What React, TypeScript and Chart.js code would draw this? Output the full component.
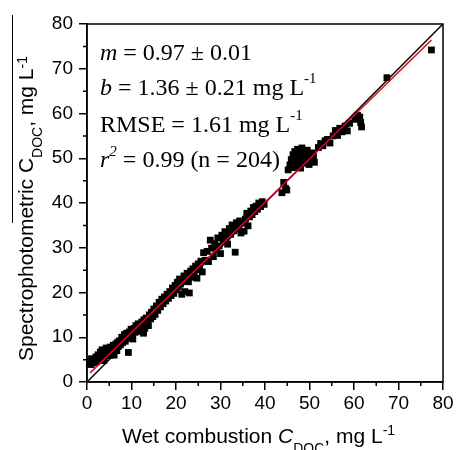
import React, { useEffect, useRef } from 'react';
import { Chart, registerables } from 'chart.js';
Chart.register(...registerables);

// Wet combustion C_DOC (x) vs spectrophotometric C_DOC (y), mg/L
const wetX = [
  0.2, 0.5, 0.9, 1.1, 1.4, 1.8, 2.0, 2.2, 2.5, 2.7, 3.0, 3.2, 3.4, 3.6, 3.9, 4.1, 4.3, 4.5, 4.8, 5.0,
  5.2, 5.4, 5.7, 5.9, 6.1, 6.3, 6.5, 6.7, 6.9, 7.0, 1.0, 3.8, 12.7,
  7.3, 7.5, 7.8, 8.0, 8.2, 8.4, 8.6, 8.9, 9.1, 9.3, 9.5, 9.7, 9.9, 10.1, 10.3, 10.6, 10.8, 11.0, 11.3, 11.5,
  11.8, 12.0, 12.3, 12.5, 12.8, 13.0, 13.3, 13.5, 13.8, 14.0, 14.3, 14.5, 14.8, 15.0, 15.3, 15.6, 15.9, 16.2, 16.5, 16.8,
  17.1, 17.4, 17.7, 18.0, 18.3, 18.6, 18.9, 19.2, 19.5, 19.8, 20.0, 20.3, 20.5, 20.8, 21.0, 21.3, 21.5, 21.8,
  22.0, 22.3, 22.5, 22.8, 23.0, 23.3, 23.5, 23.8, 24.1, 24.4, 24.7, 25.0, 25.3, 25.6, 25.9, 26.2, 26.6,
  27.0, 27.3, 27.7, 28.0, 28.4, 28.7, 29.0, 29.4, 29.7, 30.0, 30.3, 30.6, 31.0, 31.3, 31.6, 32.0, 32.3, 32.6, 33.0, 33.3,
  33.6, 34.0, 34.3, 34.6, 35.0, 35.3, 35.6, 35.9, 36.2, 36.5, 36.8, 37.1, 37.4, 37.7, 38.0, 38.3, 38.6, 39.0, 39.4, 39.8,
  43.8, 44.2, 44.6, 44.9, 45.2,
  45.6, 45.9, 46.1, 46.3, 46.5, 46.7, 46.9, 47.1, 47.3, 47.5, 47.7, 47.9, 48.1, 48.3, 48.5, 48.7, 48.9, 49.1, 49.3, 49.5,
  49.7, 49.9, 50.1, 50.3, 50.5, 50.7, 50.9, 51.1, 47.0, 48.0,
  52.0, 52.5, 53.0, 53.5, 54.0, 54.6, 55.3, 55.8, 56.3, 56.8, 57.3, 58.0, 58.5, 59.0, 60.2, 60.8, 61.3, 61.7, 61.5,
  67.4, 77.4,
];
const specY = [
  4.1, 4.4, 3.9, 4.6, 4.3, 4.9, 5.6, 4.5, 6.1, 5.2, 6.7, 5.8, 7.2, 6.2, 5.4, 6.9, 7.6, 6.3, 7.1, 5.9,
  7.8, 6.6, 7.3, 8.2, 6.0, 7.7, 8.5, 7.0, 8.9, 7.9, 5.2, 4.8, 10.9,
  9.2, 8.3, 10.0, 8.8, 9.6, 10.6, 9.1, 10.9, 9.8, 6.6, 11.2, 10.3, 11.8, 10.7, 9.6, 12.0, 11.1, 12.6, 11.5, 13.0,
  12.2, 11.3, 13.4, 12.6, 13.9, 12.0, 14.3, 13.2, 12.6, 15.0, 14.1, 15.6, 14.6, 16.3, 15.1, 17.0, 16.0, 17.8, 16.8, 18.5,
  17.5, 19.0, 18.1, 19.6, 18.7, 20.2, 19.3, 21.0, 19.8, 21.6, 20.6, 22.3, 21.2, 23.0, 21.9, 19.6, 22.6, 23.7,
  20.2, 23.2, 24.3, 22.4, 19.9, 24.8, 23.4, 25.3, 24.2, 25.9, 23.2, 26.4, 25.1, 27.0, 24.6, 28.9, 27.2,
  29.2, 26.9, 31.7, 29.9, 28.0, 30.9, 29.5, 32.2, 30.4, 28.7, 32.8, 31.6, 33.6, 32.1, 30.8, 34.3, 33.0, 35.1, 33.8, 29.0,
  35.6, 34.2, 36.0, 33.3, 35.5, 33.7, 36.4, 37.7, 34.9, 36.9, 38.2, 37.4, 39.0, 38.1, 39.3, 38.6, 40.0, 39.2, 40.3, 39.7,
  42.3, 44.6, 43.3, 42.9, 47.4,
  48.5, 49.7, 47.9, 50.8, 49.0, 51.5, 48.3, 50.2, 52.0, 49.4, 51.0, 48.7, 50.6, 52.3, 49.8, 51.4, 48.9, 50.9, 49.4, 51.8,
  50.1, 48.6, 50.5, 49.2, 51.2, 49.8, 50.4, 49.1, 48.0, 47.8,
  52.4, 53.3, 52.8, 53.9, 54.2, 53.4, 55.0, 56.2, 55.1, 56.7, 55.9, 57.2, 56.1, 57.8, 58.7, 59.6, 59.2, 57.0, 58.0,
  68.0, 74.2,
];

// 1:1 reference line and the fitted regression line (endpoints)
const identityX = [0, 80];
const identityY = [0, 80];
const fitX = [0.7, 77.4];
const fitY = [2.04, 76.44];

const axisMin = 0;
const axisMax = 80;
const majorStep = 10;
const minorTicks = [5, 15, 25, 35, 45, 55, 65, 75];

const sans = '"Liberation Sans", Arial, sans-serif';
const serif = '"Liberation Serif", "Times New Roman", serif';

type Part = { t: string; f: string; dy?: number };

function rich(ctx: CanvasRenderingContext2D, x: number, y: number, parts: Part[]) {
  let cx = x;
  for (const p of parts) {
    ctx.font = p.f;
    ctx.fillText(p.t, cx, y + (p.dy || 0));
    cx += ctx.measureText(p.t).width;
  }
}

const annotLines: Part[][] = [
  [
    { t: 'm', f: `italic 24px ${serif}` },
    { t: ' = 0.97 ± 0.01', f: `24px ${serif}` },
  ],
  [
    { t: 'b', f: `italic 24px ${serif}` },
    { t: ' = 1.36 ± 0.21 mg L', f: `24px ${serif}` },
    { t: '-1', f: `15px ${serif}`, dy: -12 },
  ],
  [
    { t: 'RMSE = 1.61 mg L', f: `24px ${serif}` },
    { t: '-1', f: `15px ${serif}`, dy: -12 },
  ],
  [
    { t: 'r', f: `italic 24px ${serif}` },
    { t: '2', f: `italic 15px ${serif}`, dy: -11 },
    { t: ' = 0.99 (n = 204)', f: `24px ${serif}` },
  ],
];

const xTitle: Part[] = [
  { t: 'Wet combustion ', f: `21px ${sans}` },
  { t: 'C', f: `italic 21px ${sans}` },
  { t: 'DOC', f: `14px ${sans}`, dy: 10 },
  { t: ', mg L', f: `21px ${sans}` },
  { t: '-1', f: `14px ${sans}`, dy: -8 },
];

const yTitle: Part[] = [
  { t: 'Spectrophotometric ', f: `21px ${sans}` },
  { t: 'C', f: `21px ${sans}` },
  { t: 'DOC', f: `14px ${sans}`, dy: 9 },
  { t: ', mg L', f: `21px ${sans}` },
  { t: '-1', f: `14px ${sans}`, dy: -6 },
];

const decorPlugin = {
  id: 'decor',
  afterDraw(chart: any) {
    const { ctx, chartArea: a, scales } = chart;
    const xs = scales.x;
    const ys = scales.y;
    ctx.save();
    ctx.strokeStyle = '#000';
    ctx.lineWidth = 1.5;
    ctx.strokeRect(a.left, a.top, a.right - a.left, a.bottom - a.top);
    ctx.beginPath();
    for (const v of minorTicks) {
      const px = xs.getPixelForValue(v);
      ctx.moveTo(px, a.bottom);
      ctx.lineTo(px, a.bottom + 4);
      const py = ys.getPixelForValue(v);
      ctx.moveTo(a.left, py);
      ctx.lineTo(a.left - 4, py);
    }
    ctx.stroke();

    // thin line left of the y title
    ctx.lineWidth = 1;
    ctx.beginPath();
    ctx.moveTo(12.5, 15);
    ctx.lineTo(12.5, 223);
    ctx.stroke();

    ctx.fillStyle = '#000';
    ctx.textBaseline = 'alphabetic';
    ctx.textAlign = 'left';
    const baselines = [60, 95, 131.5, 166.5];
    annotLines.forEach((ln, i) => rich(ctx, a.left + 13, baselines[i], ln));

    rich(ctx, 122, 443, xTitle);

    ctx.translate(33, 361);
    ctx.rotate(-Math.PI / 2);
    rich(ctx, 0, 0, yTitle);
    ctx.restore();
  },
};

export default function App() {
  const ref = useRef<HTMLCanvasElement>(null);
  useEffect(() => {
    if (!ref.current) return;
    const points = wetX.map((x, i) => ({ x, y: specY[i] }));
    const identity = identityX.map((x, i) => ({ x, y: identityY[i] }));
    const fit = fitX.map((x, i) => ({ x, y: fitY[i] }));
    const tickFont = { family: '"Liberation Sans", Arial, sans-serif', size: 19 };
    const chart = new Chart(ref.current, {
      type: 'scatter',
      data: {
        datasets: [
          {
            label: 'fit',
            data: fit,
            showLine: true,
            borderColor: '#e3001b',
            borderWidth: 1.5,
            pointRadius: 0,
            order: 1,
          },
          {
            label: '1:1',
            data: identity,
            showLine: true,
            borderColor: '#000',
            borderWidth: 1.5,
            pointRadius: 0,
            order: 2,
          },
          {
            label: 'samples',
            data: points,
            pointStyle: 'rect',
            pointRadius: 4.8,
            backgroundColor: '#000',
            borderWidth: 0,
            order: 3,
          },
        ],
      },
      options: {
        responsive: false,
        animation: false,
        layout: { padding: { left: 0, right: 14, top: 24, bottom: 0 } },
        plugins: { legend: { display: false }, tooltip: { enabled: false } },
        scales: {
          x: {
            type: 'linear',
            min: axisMin,
            max: axisMax,
            ticks: { stepSize: majorStep, font: tickFont, color: '#000', padding: 2, maxRotation: 0 },
            grid: { drawOnChartArea: false, drawTicks: true, tickLength: 8, color: '#000', lineWidth: 1.5 },
            border: { display: true, color: '#000', width: 1.5 },
            afterFit: (s: any) => { s.height = 68; },
          },
          y: {
            type: 'linear',
            min: axisMin,
            max: axisMax,
            ticks: { stepSize: majorStep, font: tickFont, color: '#000', padding: 6 },
            grid: { drawOnChartArea: false, drawTicks: true, tickLength: 8, color: '#000', lineWidth: 1.5 },
            border: { display: true, color: '#000', width: 1.5 },
            afterFit: (s: any) => { s.width = 87; },
          },
        },
      },
      plugins: [decorPlugin],
    } as any);
    return () => chart.destroy();
  }, []);
  return (
    <div style={{ position: 'absolute', left: 0, top: 0, width: 457, height: 450, background: '#fff' }}>
      <canvas ref={ref} width={457} height={450} />
    </div>
  );
}
